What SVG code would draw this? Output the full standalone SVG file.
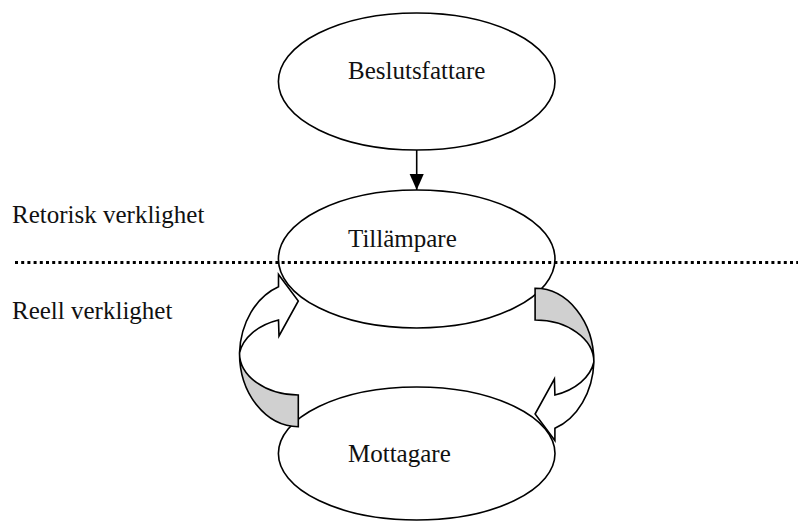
<svg xmlns="http://www.w3.org/2000/svg" xmlns:xlink="http://www.w3.org/1999/xlink" width="798" height="521" viewBox="0 0 798 521">
  <style>
    .node { fill: none; stroke: #000; stroke-width: 1.6; }
    .label { font-family: "Liberation Serif", "Times New Roman", serif; font-size: 25px; fill: #111; }
    .conn { stroke: #000; stroke-width: 1.6; fill: none; }
    .front { fill: #fff; stroke: #000; stroke-width: 1.6; stroke-linejoin: miter; }
    .back { fill: #d0d0d0; stroke: #000; stroke-width: 1.6; stroke-linejoin: miter; }
    .divider { stroke: #000; stroke-width: 3; stroke-dasharray: 3 3.2; fill: none; }
  </style>
  <defs>
    <marker id="head" markerUnits="userSpaceOnUse" markerWidth="16" markerHeight="16" refX="17" refY="7.5" orient="auto" viewBox="0 0 17 15">
      <path d="M0,0 L17,7.5 L0,15 Z" fill="#000"/>
    </marker>
    <g id="curvedArrow">
      <path class="back" d="M239.5,353 A58.8 73.7 0 0 0 298.3,426.7 L298.3,395 A58.8 42 0 0 1 239.5,353 Z"/>
      <path class="front" d="M239.5,353 A58.8 73.7 0 0 1 278.5,286.7 L278.5,274.5 L298.3,301 L279,336 L278.5,320 A58.8 42 0 0 0 239.5,353 Z"/>
    </g>
  </defs>

  <rect x="0" y="0" width="798" height="521" fill="#fff"/>

  <g id="node-beslutsfattare">
    <ellipse class="node" cx="416.7" cy="81.5" rx="138.3" ry="68.5"/>
    <text class="label" x="348" y="79">Beslutsfattare</text>
  </g>
  <g id="node-tillampare">
    <ellipse class="node" cx="416.7" cy="259" rx="138.3" ry="69"/>
    <text class="label" x="348" y="247">Tillämpare</text>
  </g>
  <g id="node-mottagare">
    <ellipse class="node" cx="416.7" cy="453.5" rx="138.3" ry="66.5"/>
    <text class="label" x="348" y="462">Mottagare</text>
  </g>

  <g id="connectors">
    <line class="conn" x1="416.7" y1="150" x2="416.7" y2="190" marker-end="url(#head)"/>
    <use xlink:href="#curvedArrow" href="#curvedArrow"/>
    <use xlink:href="#curvedArrow" href="#curvedArrow" transform="rotate(180 416.7 357.5)"/>
  </g>

  <g id="divider">
    <line class="divider" x1="15" y1="262.5" x2="798" y2="262.5"/>
    <text class="label" x="12" y="223">Retorisk verklighet</text>
    <text class="label" x="12" y="319">Reell verklighet</text>
  </g>
</svg>
